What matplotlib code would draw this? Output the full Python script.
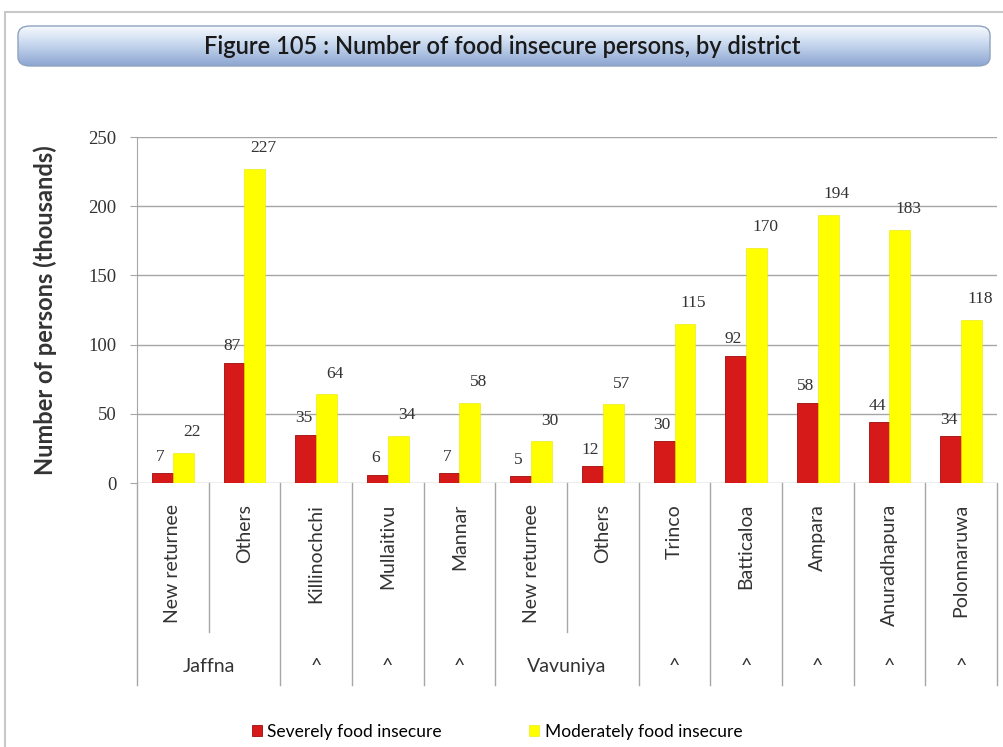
import matplotlib
matplotlib.use("Agg")
import matplotlib.pyplot as plt
import numpy as np
from matplotlib.patches import FancyBboxPatch, Rectangle
from matplotlib.lines import Line2D
import matplotlib.transforms as mtransforms

sub_labels = ["New returnee", "Others", "Killinochchi", "Mullaitivu", "Mannar",
              "New returnee", "Others", "Trinco", "Batticaloa", "Ampara",
              "Anuradhapura", "Polonnaruwa"]
group_labels = ["Jaffna", "^", "^", "^", "Vavuniya", "^", "^", "^", "^", "^"]
group_sizes = [2, 1, 1, 1, 2, 1, 1, 1, 1, 1]
severe = [7, 87, 35, 6, 7, 5, 12, 30, 92, 58, 44, 34]
moderate = [22, 227, 64, 34, 58, 30, 57, 115, 170, 194, 183, 118]
yticks = [0, 50, 100, 150, 200, 250]

SANS = "Lato"
SERIF = "Liberation Serif"
TXT = "#333333"

fig = plt.figure(figsize=(10.04, 7.47), dpi=100)
W, H = 1004, 747

# outer frame
fig.add_artist(Rectangle((5 / W, -0.1), 1.2, (H - 12) / H + 0.1, transform=fig.transFigure,
                         fill=False, edgecolor="#c8c8c8", linewidth=1.5))

# title banner with gradient
bx0, by0, bw, bh = 18 / W, (H - 66) / H, 972 / W, 40 / H
banner = FancyBboxPatch((bx0, by0), bw, bh, boxstyle="round,pad=0,rounding_size=0.012",
                        transform=fig.transFigure, facecolor="none", edgecolor="#8fa3bf",
                        linewidth=1.0, zorder=2)
fig.add_artist(banner)
bax = fig.add_axes([bx0, by0, bw, bh], zorder=1)
bax.set_axis_off()
t = np.linspace(0, 1, 100)
top = np.array([0.97, 0.98, 1.0])
mid = np.array([0.80, 0.86, 0.94])
bot = np.array([0.55, 0.65, 0.82])
cols = np.array([top * (1 - v / 0.4) + mid * (v / 0.4) if v < 0.4 else
                 mid * (1 - (v - 0.4) / 0.6) + bot * ((v - 0.4) / 0.6) for v in t])
img = bax.imshow(cols.reshape(100, 1, 3), aspect="auto", extent=[0, 1, 0, 1], origin="upper")
img.set_clip_path(banner)
fig.text(0.5, by0 + bh / 2, "Figure 105 : Number of food insecure persons, by district",
         ha="center", va="center", fontsize=17, fontweight="semibold", family=SANS,
         color="#1a1a1a", zorder=3)

ax = fig.add_axes([137 / W, (H - 483) / H, (997 - 137) / W, 346 / H])
n = len(sub_labels)
x = np.arange(n)
bw_ = 0.29
red_bars = ax.bar(x - bw_ / 2, severe, bw_, color="#D61A1A", edgecolor="#9e0b0b", linewidth=0.6,
                  label="Severely food insecure", zorder=3)
yel_bars = ax.bar(x + bw_ / 2, moderate, bw_, color="#FFFF00", edgecolor="#e6e600", linewidth=0.4,
                  label="Moderately food insecure", zorder=3)
for xi, v in zip(x, severe):
    ax.text(xi - bw_ / 2 - 0.03, v + 6, str(v), ha="center", va="bottom", fontsize=12.5,
            family=SERIF, color=TXT, zorder=2)
for xi, v in zip(x, moderate):
    ax.text(xi + bw_ / 2 + 0.12, v + 9, str(v), ha="center", va="bottom", fontsize=12.5,
            family=SERIF, color=TXT, zorder=4)

ax.set_xlim(-0.5, n - 0.5)
ax.set_ylim(0, 250)
ax.set_yticks(yticks)
ax.set_yticklabels([str(v) for v in yticks], fontsize=13.5, family=SERIF, color=TXT)
ax.yaxis.grid(True, color="#a6a6a6", linewidth=1.0, zorder=0)
ax.set_axisbelow(True)
for s in ["top", "right", "bottom"]:
    ax.spines[s].set_visible(False)
ax.spines["left"].set_color("#a6a6a6")
ax.tick_params(axis="y", length=5, color="#a6a6a6", pad=10)
ax.tick_params(axis="x", length=0)
ax.set_xticks([])
ax.set_ylabel("Number of persons (thousands)", fontsize=17, fontweight="bold",
              family=SANS, color=TXT, labelpad=22)

trans = mtransforms.blended_transform_factory(ax.transData, ax.transAxes)
line_col = "#a6a6a6"
deep = -0.585
shallow = -0.43
bounds = [0]
for g in group_sizes:
    bounds.append(bounds[-1] + g)
for b in bounds:
    ax.add_line(Line2D([b - 0.5, b - 0.5], [0, deep], transform=trans, color=line_col,
                       linewidth=1.0, clip_on=False))
start = 0
for g in group_sizes:
    for k in range(1, g):
        xb = start + k - 0.5
        ax.add_line(Line2D([xb, xb], [0, shallow], transform=trans, color=line_col,
                           linewidth=1.0, clip_on=False))
    start += g
for xi, lab in zip(x, sub_labels):
    ax.text(xi, -0.06, lab, rotation=90, ha="center", va="top", fontsize=14,
            family=SANS, color=TXT, transform=trans)
start = 0
for g, lab in zip(group_sizes, group_labels):
    cx = start + (g - 1) / 2
    ax.text(cx, -0.53, lab, ha="center", va="center", fontsize=14,
            family=SANS, color=TXT, transform=trans)
    start += g

fig.legend(handles=[red_bars, yel_bars], labels=["Severely food insecure", "Moderately food insecure"],
           loc="center", bbox_to_anchor=(0.495, 0.02), ncol=2, frameon=False,
           handlelength=0.6, handleheight=0.6, handletextpad=0.3, columnspacing=5,
           prop={"family": SANS, "size": 12.5})

fig.savefig("out.png", dpi=100, facecolor="white")
